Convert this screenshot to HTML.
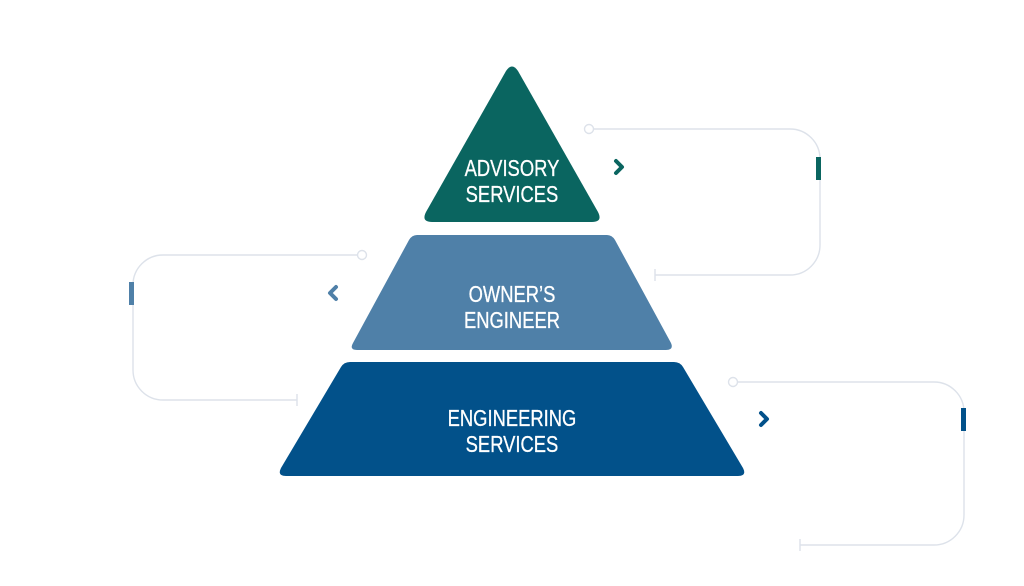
<!DOCTYPE html>
<html><head><style>
html,body{margin:0;padding:0;background:#fff;width:1024px;height:586px;overflow:hidden}
text{font-family:"Liberation Sans",sans-serif}
</style></head><body>
<svg width="1024" height="586" viewBox="0 0 1024 586" xmlns="http://www.w3.org/2000/svg">
<g fill="none" stroke="#dde2ea" stroke-width="1.4">
<path d="M594 129 H790 A30 30 0 0 1 820 159 V245 A30 30 0 0 1 790 275 H655"/>
<path d="M655 269 V281"/>
<circle cx="589" cy="129" r="4.5" fill="#fff"/>
<path d="M357 255 H163 A30 30 0 0 0 133 285 V370 A30 30 0 0 0 163 400 H297"/>
<path d="M297 394 V406"/>
<circle cx="362" cy="255" r="4.5" fill="#fff"/>
<path d="M738 382 H934 A30 30 0 0 1 964 412 V515 A30 30 0 0 1 934 545 H800"/>
<path d="M800 539 V551"/>
<circle cx="733" cy="382" r="4.5" fill="#fff"/>
</g>
<rect x="816" y="157" width="5" height="23" fill="#0a6560"/>
<rect x="129" y="282" width="5" height="23" fill="#4f80a8"/>
<rect x="961" y="408" width="5" height="23" fill="#02518a"/>
<g fill="none" stroke-width="4" stroke-linecap="round" stroke-linejoin="round">
<path d="M616 161 L622 167 L616 173" stroke="#0a6560"/>
<path d="M336 287 L330 293 L336 299" stroke="#4f80a8"/>
<path d="M761 413 L767 419 L761 425" stroke="#02518a"/>
</g>
<path d="M506 71 Q512 62 518 71 L598 212 Q603 222 592 222 L432 222 Q421 222 426 212 Z" fill="#0a6560"/>
<path d="M417 235 L607 235 Q612 235 615 240 L671 343 Q674 350 666 350 L357 350 Q349 350 353 343 L409 240 Q412 235 417 235 Z" fill="#4f80a8"/>
<path d="M350 362 L674 362 Q680 362 683 367 L743 468 Q747 476 738 476 L286 476 Q277 476 281 468 L341 367 Q344 362 350 362 Z" fill="#02518a"/>
<g fill="#fff" font-size="23" text-anchor="middle" transform="scale(0.8,1)" stroke="#fff" stroke-width="0.3">
<text x="640" y="176">ADVISORY</text>
<text x="640" y="202">SERVICES</text>
<text x="640" y="302">OWNER’S</text>
<text x="640" y="328">ENGINEER</text>
<text x="640" y="426">ENGINEERING</text>
<text x="640" y="452">SERVICES</text>
</g>
</svg>
</body></html>
